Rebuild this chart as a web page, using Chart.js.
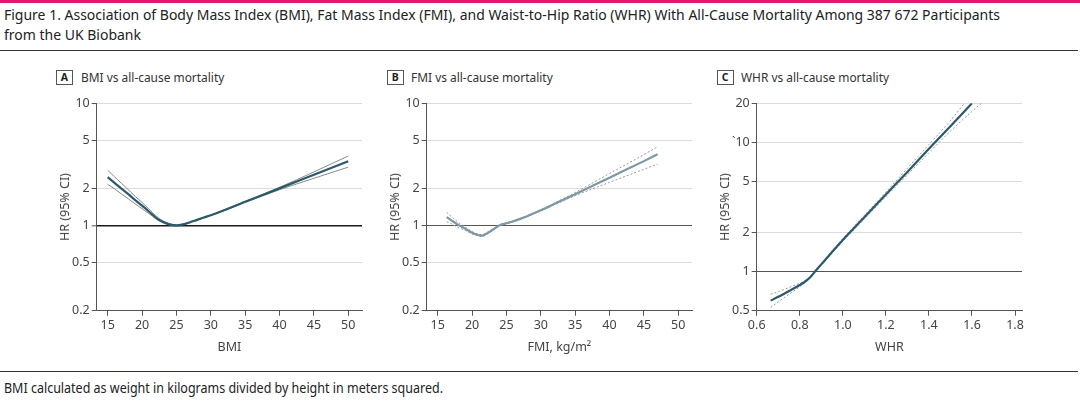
<!DOCTYPE html>
<html><head><meta charset="utf-8">
<script src="https://cdn.jsdelivr.net/npm/chart.js@4.4.1/dist/chart.umd.min.js"></script>
<style>
html,body{margin:0;padding:0;background:#fff;}
body{width:1080px;height:402px;position:relative;overflow:hidden;font-family:"Noto Sans",Lato,sans-serif;color:#222;}
.abs{position:absolute;}
.fit{white-space:nowrap;transform-origin:0 50%;display:inline-block;}
.rule{position:absolute;left:0;width:1078px;height:1px;background:#333;}
.box{position:absolute;width:17px;height:15px;box-sizing:border-box;border:1px solid #555;font-weight:bold;font-size:10.5px;line-height:13px;text-align:center;color:#222;}
.ptitle{position:absolute;font-size:13px;line-height:16px;color:#333;white-space:nowrap;}
.ytitle{position:absolute;top:207px;transform:translate(-50%,-50%) rotate(-90deg);white-space:nowrap;font-size:12.5px;line-height:16px;color:#444;}
canvas{position:absolute;}
</style></head>
<body>
<div class="abs" style="left:0;top:0;width:1080px;height:3px;background:#e8156f;"></div>
<div class="abs" style="left:4px;top:5px;font-size:14px;line-height:20px;"><span id="t1" class="fit">Figure 1. Association of Body Mass Index (BMI), Fat Mass Index (FMI), and Waist-to-Hip Ratio (WHR) With All-Cause Mortality Among 387 672 Participants</span></div>
<div class="abs" style="left:4px;top:25px;font-size:14px;line-height:20px;"><span id="t2" class="fit">from the UK Biobank</span></div>
<div class="rule" style="top:50px;"></div>

<div class="box" style="left:56px;top:70px;">A</div>
<div class="ptitle" style="left:80.7px;top:69px;"><span id="pa" class="fit">BMI vs all-cause mortality</span></div>
<div class="box" style="left:386.7px;top:70px;">B</div>
<div class="ptitle" style="left:410.7px;top:69px;"><span id="pb" class="fit">FMI vs all-cause mortality</span></div>
<div class="box" style="left:716.7px;top:70px;">C</div>
<div class="ptitle" style="left:740.7px;top:69px;"><span id="pc" class="fit">WHR vs all-cause mortality</span></div>

<canvas id="cA" width="330" height="270" style="left:40px;top:90px;"></canvas>
<canvas id="cB" width="330" height="270" style="left:370px;top:90px;"></canvas>
<canvas id="cC" width="330" height="270" style="left:700px;top:90px;"></canvas>

<div class="ytitle" style="left:65px;">HR (95% CI)</div>
<div class="ytitle" style="left:395px;">HR (95% CI)</div>
<div class="ytitle" style="left:725px;">HR (95% CI)</div>

<div class="rule" style="top:371px;"></div>
<div class="abs" style="left:4px;top:379px;font-size:14px;line-height:18px;"><span id="fn" class="fit">BMI calculated as weight in kilograms divided by height in meters squared.</span></div>

<script>
// ---- Panel A: BMI ----
const bmiX     = [15,16,17,18,19,20,21,22,23,24,25,26,27,28,29,30,35,40,45,50];
const bmiHR    = [2.48,2.23,2.00,1.80,1.61,1.45,1.30,1.16,1.07,1.02,1.00,1.02,1.06,1.11,1.16,1.21,1.56,2.01,2.60,3.35];
const bmiUpper = [2.83,2.50,2.21,1.96,1.73,1.54,1.36,1.20,1.09,1.03,1.005,1.025,1.065,1.115,1.165,1.215,1.57,2.05,2.74,3.70];
const bmiLower = [2.17,1.99,1.81,1.65,1.50,1.37,1.25,1.13,1.05,1.01,0.995,1.015,1.055,1.105,1.155,1.205,1.54,1.96,2.43,3.00];
const bmiXTicks = [15,20,25,30,35,40,45,50];
const bmiYTicks = [0.2,0.5,1,2,5,10];
const bmiYLabels = ['0.2','0.5','1','2','5','10'];

// ---- Panel B: FMI ----
const fmiX     = [16.3,17,18,19,20,21,21.5,22,23,24,25,26,27,28,30,32,35,40,45,47];
const fmiHR    = [1.17,1.10,1.01,0.94,0.87,0.83,0.825,0.85,0.92,1.00,1.04,1.08,1.13,1.19,1.33,1.50,1.80,2.46,3.36,3.82];
const fmiUpper = [1.28,1.18,1.06,0.97,0.89,0.845,0.84,0.865,0.935,1.015,1.05,1.09,1.14,1.20,1.345,1.525,1.86,2.66,3.80,4.41];
const fmiLower = [1.07,1.03,0.96,0.91,0.85,0.815,0.81,0.835,0.905,0.99,1.03,1.07,1.12,1.18,1.315,1.475,1.75,2.25,2.88,3.18];
const fmiXTicks = [15,20,25,30,35,40,45,50];
const fmiYTicks = [0.2,0.5,1,2,5,10];
const fmiYLabels = ['0.2','0.5','1','2','5','10'];

// ---- Panel C: WHR ----
const whrX     = [0.665,0.70,0.75,0.80,0.825,0.85,0.87,0.90,0.95,1.00,1.10,1.20,1.30,1.40,1.50,1.60,1.65];
const whrHR    = [0.598,0.64,0.71,0.79,0.84,0.91,1.00,1.14,1.42,1.76,2.63,3.95,5.9,8.9,13.3,20,null];
const whrUpper = [0.67,0.70,0.755,0.815,0.855,0.92,1.01,1.16,1.45,1.80,2.72,4.12,6.3,9.6,14.7,23.5,28.5];
const whrLower = [0.53,0.585,0.67,0.765,0.825,0.90,0.99,1.12,1.39,1.72,2.55,3.8,5.6,8.3,12.2,17.3,20.5];
const whrXTicks = [0.6,0.8,1.0,1.2,1.4,1.6,1.8];
const whrXLabels = ['0.6','0.8','1.0','1.2','1.4','1.6','1.8'];
const whrYTicks = [0.5,1,2,5,10,20];
const whrYLabels = ['0.5','1','2','5','`10','20'];

Chart.defaults.font.family = '"Noto Sans", Lato, sans-serif';
Chart.defaults.font.size = 12.5;
Chart.defaults.color = '#444';

function pts(xs, ys){ return xs.map((x,i)=>({x:x, y:ys[i]})); }

function makePanel(id, c){
  return new Chart(document.getElementById(id), {
    type: 'line',
    data: { datasets: c.datasets },
    options: {
      responsive: false, animation: false,
      layout: { padding: { top: 13.3, right: 8, left: 0, bottom: 0 } },
      plugins: { legend: { display: false }, tooltip: { enabled: false } },
      elements: { point: { radius: 0 }, line: { cubicInterpolationMode: 'monotone' } },
      scales: {
        x: {
          type: 'linear', min: c.xMin, max: c.xMax,
          afterFit: s => { s.height = 49.3; },
          afterBuildTicks: s => { s.ticks = c.xTicks.map(v => ({ value: v })); },
          ticks: { autoSkip: false, maxRotation: 0, padding: 2, color: '#444', font: { size: 12.5 },
                   callback: (v, i) => c.xLabels ? c.xLabels[i] : String(c.xTicks[i]) },
          grid: { drawOnChartArea: false, tickLength: 5, tickColor: '#555' },
          border: { color: '#555', width: 1 },
          title: { display: true, text: c.xTitle, color: '#444', font: { size: 12.5 }, padding: { top: 0, bottom: 5.2 } }
        },
        y: {
          type: 'logarithmic', min: c.yMin, max: c.yMax,
          afterFit: s => { s.width = 56.7; },
          afterBuildTicks: s => { s.ticks = c.yTicks.map(v => ({ value: v })); },
          ticks: { autoSkip: false, padding: 2, color: '#444', font: { size: 12.5 },
                   callback: (v, i) => c.yLabels[i] },
          grid: {
            color: ctx => (ctx.tick && ctx.tick.value === 1) ? c.refColor : '#dcdcdc',
            lineWidth: ctx => (ctx.tick && ctx.tick.value === 1) ? c.refWidth : 1,
            tickLength: 5, tickColor: '#555', tickWidth: 1
          },
          border: { color: '#555', width: 1 },
          title: { display: false }
        }
      }
    }
  });
}

makePanel('cA', {
  xMin: 13.4, xMax: 52, xTicks: bmiXTicks, xTitle: 'BMI',
  yMin: 0.2, yMax: 10, yTicks: bmiYTicks, yLabels: bmiYLabels,
  refColor: '#1a1a1a', refWidth: 1.6,
  datasets: [
    { data: pts(bmiX, bmiHR), borderColor: '#2c5a6b', borderWidth: 2.2 },
    { data: pts(bmiX, bmiUpper), borderColor: '#8a8a8a', borderWidth: 1 },
    { data: pts(bmiX, bmiLower), borderColor: '#8a8a8a', borderWidth: 1 }
  ]
});

makePanel('cB', {
  xMin: 13.4, xMax: 52, xTicks: fmiXTicks, xTitle: 'FMI, kg/m²',
  yMin: 0.2, yMax: 10, yTicks: fmiYTicks, yLabels: fmiYLabels,
  refColor: '#555', refWidth: 1,
  datasets: [
    { data: pts(fmiX, fmiHR), borderColor: '#7d97a3', borderWidth: 2.2 },
    { data: pts(fmiX, fmiUpper), borderColor: '#9a9a9a', borderWidth: 1, borderDash: [2, 2] },
    { data: pts(fmiX, fmiLower), borderColor: '#9a9a9a', borderWidth: 1, borderDash: [2, 2] }
  ]
});

makePanel('cC', {
  xMin: 0.6, xMax: 1.8325, xTicks: whrXTicks, xLabels: whrXLabels, xTitle: 'WHR',
  yMin: 0.5, yMax: 20, yTicks: whrYTicks, yLabels: whrYLabels,
  refColor: '#555', refWidth: 1,
  datasets: [
    { data: pts(whrX, whrHR), borderColor: '#2c5a6b', borderWidth: 2.2, spanGaps: false },
    { data: pts(whrX, whrUpper), borderColor: '#9a9a9a', borderWidth: 1, borderDash: [2, 2] },
    { data: pts(whrX, whrLower), borderColor: '#9a9a9a', borderWidth: 1, borderDash: [2, 2] }
  ]
});

function fit(id, w){
  const el = document.getElementById(id);
  el.style.transform = 'none';
  const cw = el.getBoundingClientRect().width;
  if (cw > 0) el.style.transform = 'scaleX(' + (w / cw) + ')';
  return w / cw;
}
function fitAll(){
  const s1 = fit('t1', 996);
  document.getElementById('t2').style.transform = 'scaleX(' + s1 + ')';
  const sa = fit('pa', 143.3);
  ['pb','pc'].forEach(id => { document.getElementById(id).style.transform = 'scaleX(' + sa + ')'; });
  fit('fn', 439);
}
fitAll();
if (document.fonts && document.fonts.ready) document.fonts.ready.then(fitAll);
</script>
</body></html>
